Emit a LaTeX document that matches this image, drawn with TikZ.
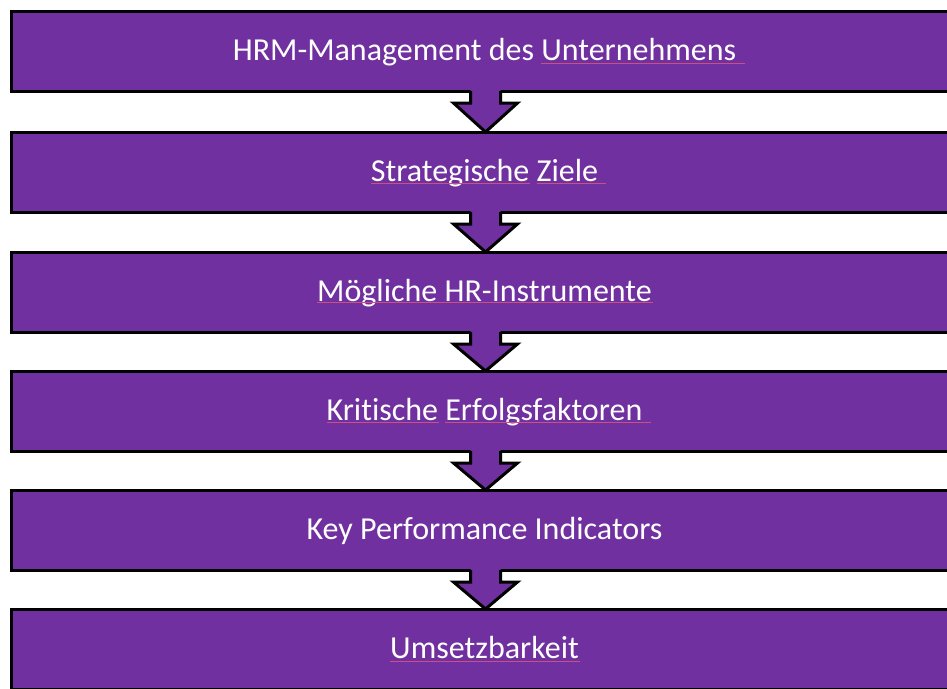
\documentclass[tikz,border=0pt]{standalone}
\usepackage{fontspec}
\setmainfont[Ligatures=NoCommon]{Carlito}
\usetikzlibrary{calc}
\definecolor{boxpurple}{RGB}{112,48,160}
\definecolor{squiggle}{RGB}{200,80,130}
\tikzset{
  stagebox/.style={draw=black, fill=boxpurple, line width=3pt, rectangle,
    minimum width=949pt, minimum height=80pt, inner sep=0pt, outer sep=0pt},
  stagetext/.style={text=white, font=\fontsize{32}{38}\selectfont, anchor=base, inner sep=0pt},
  arrowfill/.style={fill=boxpurple},
  arrowline/.style={draw=black, line width=3pt, line join=miter},
  spell/.style={draw=squiggle, line width=1pt}
}
\newcommand{\downarrowbetween}[2]{%
  \fill[arrowfill] ($(#1.south)+(-15,-6)$) -- ($(#1.south)+(-15,12)$) -- ($(#1.south)+(-32,12)$)
    -- (#2.north) -- ($(#1.south)+(32,12)$) -- ($(#1.south)+(15,12)$) -- ($(#1.south)+(15,-6)$) -- cycle;
  \draw[arrowline] ($(#1.south)+(-15,0)$) -- ($(#1.south)+(-15,12)$) -- ($(#1.south)+(-32,12)$)
    -- (#2.north) -- ($(#1.south)+(32,12)$) -- ($(#1.south)+(15,12)$) -- ($(#1.south)+(15,0)$);
}
\begin{document}
\begin{tikzpicture}[x=1pt,y=-1pt]
\useasboundingbox (0,0) rectangle (947,688);
\node[stagebox] (b1) at (485.5,51) {};
\node[stagebox] (b2) at (485.5,172) {};
\node[stagebox] (b3) at (485.5,292) {};
\node[stagebox] (b4) at (485.5,411) {};
\node[stagebox] (b5) at (485.5,530) {};
\node[stagebox] (b6) at (485.5,649) {};
\node[stagetext] (t1) at ($(b1.center)+(-1,9.5)$) {HRM-Management des Unternehmens};
\node[stagetext] (t2) at ($(b2.center)+(-1,9.5)$) {Strategische Ziele};
\node[stagetext] (t3) at ($(b3.center)+(-1,9.5)$) {Mögliche HR-Instrumente};
\node[stagetext] (t4) at ($(b4.center)+(-1,9.5)$) {Kritische Erfolgsfaktoren};
\node[stagetext] (t5) at ($(b5.center)+(-1,9.5)$) {Key Performance Indicators};
\node[stagetext] (t6) at ($(b6.center)+(-1,9.5)$) {Umsetzbarkeit};
\downarrowbetween{b1}{b2}
\downarrowbetween{b2}{b3}
\downarrowbetween{b3}{b4}
\downarrowbetween{b4}{b5}
\downarrowbetween{b5}{b6}
% spell-check underlines
\draw[spell] (541,63) -- (745,63);
\draw[spell] (371,183) -- (530,183);
\draw[spell] (537,183) -- (606,183);
\draw[spell] (317,302) -- (653,302);
\draw[spell] (327,422) -- (439,422);
\draw[spell] (445,422) -- (651,422);
\draw[spell] (390,661) -- (580,661);
\end{tikzpicture}
\end{document}
